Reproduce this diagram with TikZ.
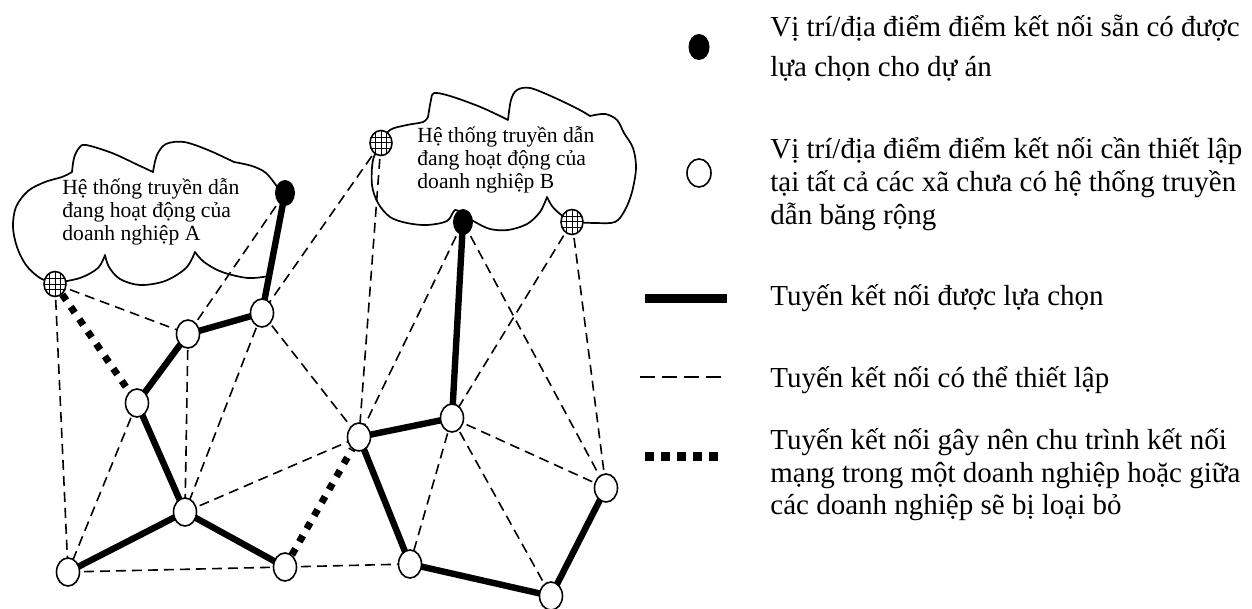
\documentclass[tikz,border=0pt]{standalone}
\usepackage{fontspec}
\setmainfont{Liberation Serif}
\usetikzlibrary{shapes.geometric}
\pgfdeclarelayer{bg}
\pgfsetlayers{bg,main}
\tikzset{
  site/.style={ellipse, draw, line width=0.8pt, fill=white, minimum width=11.5pt, minimum height=14pt, inner sep=0pt},
  exist/.style={ellipse, fill=black, minimum width=10pt, minimum height=13pt, inner sep=0pt},
  gridsite/.style={ellipse, draw, line width=0.8pt, fill=white, minimum width=11pt, minimum height=12.5pt, inner sep=0pt,
    path picture={\foreach \d in {-2.7,0,2.7}{
      \draw[line width=0.5pt] ([xshift=\d pt]path picture bounding box.north) -- ([xshift=\d pt]path picture bounding box.south);
      \draw[line width=0.5pt] ([yshift=\d pt]path picture bounding box.west) -- ([yshift=\d pt]path picture bounding box.east);}}},
  chosen/.style={line width=3.2pt},
  possible/.style={line width=0.8pt, dash pattern=on 5pt off 3pt},
  loopedge/.style={line width=3.5pt, dash pattern=on 3.5pt off 4pt},
  cloudline/.style={line width=0.85pt, line join=round},
  ctext/.style={anchor=base west, inner sep=0pt, font=\fontsize{10.8}{12}\selectfont},
  ltext/.style={anchor=base west, inner sep=0pt, font=\fontsize{14.5}{16}\selectfont},
}
\begin{document}
\begin{tikzpicture}[x=0.5pt,y=-0.5pt]
\useasboundingbox (0,0) rectangle (1252,609);
% nodes
\node[gridsite] (gA) at (55,284) {};
\node[exist] (bA) at (285,193) {};
\node[gridsite] (gB1) at (381,143) {};
\node[exist] (bB) at (463,222) {};
\node[gridsite] (gB2) at (572,222) {};
\node[site] (n1) at (262,313) {};
\node[site] (n2) at (188,334) {};
\node[site] (n3) at (137,403) {};
\node[site] (n4) at (185,512) {};
\node[site] (n5) at (68,572) {};
\node[site] (n6) at (285,567) {};
\node[site] (n7) at (359,437) {};
\node[site] (n8) at (452,418) {};
\node[site] (n9) at (410,564) {};
\node[site] (n10) at (551,596) {};
\node[site] (n11) at (606,488) {};
% cloud texts
\node[ctext] (tA1) at (62,195) {Hệ thống truyền dẫn};
\node[ctext] (tA2) at (62,218) {đang hoạt động của};
\node[ctext] (tA3) at (62,241) {doanh nghiệp A};
\node[ctext] (tB1) at (417,143) {Hệ thống truyền dẫn};
\node[ctext] (tB2) at (417,166) {đang hoạt động của};
\node[ctext] (tB3) at (417,189) {doanh nghiệp B};
\begin{pgfonlayer}{bg}
% cloud A
\draw[cloudline] plot[smooth,tension=0.55] coordinates {(55,283) (40,278) (26,265) (17,247) (13,227) (16,207) (28,191) (45,182) (62,177) (72,172)}
 -- plot[smooth,tension=0.55] coordinates {(72,172) (74,158) (79,148) (86,145) (112,153) (138,165) (153,172)}
 -- plot[smooth,tension=0.55] coordinates {(153,172) (157,155) (166,144) (184,142) (208,150) (234,162)}
 -- plot[smooth,tension=0.55] coordinates {(234,162) (252,166) (266,173) (278,188)}
 -- (285,193) -- (269,276)
 -- plot[smooth,tension=0.55] coordinates {(269,276) (248,278) (222,272) (204,262) (195,252)}
 -- plot[smooth,tension=0.55] coordinates {(195,252) (186,268) (165,281) (140,285) (120,279) (109,267) (105,255)}
 -- plot[smooth,tension=0.55] coordinates {(105,255) (98,268) (80,278) (55,283)};
% cloud B
\draw[cloudline] plot[smooth,tension=0.55] coordinates {(381,143) (390,130) (407,125) (423,122) (428,117)}
 -- plot[smooth,tension=0.55] coordinates {(428,117) (431,100) (434,93) (450,96) (478,106) (498,115) (508,120)}
 -- plot[smooth,tension=0.55] coordinates {(508,120) (511,100) (517,90) (530,88) (553,97) (578,109) (590,116)}
 -- plot[smooth,tension=0.55] coordinates {(590,116) (605,114) (617,120) (624,133) (633,148) (636,168) (632,192) (625,210) (615,222) (595,223) (572,222)}
 -- plot[smooth,tension=0.55] coordinates {(572,222) (560,214) (552,206) (547,197)}
 -- plot[smooth,tension=0.55] coordinates {(547,197) (540,212) (527,224) (508,230) (490,229) (475,222) (463,215)}
 -- plot[smooth,tension=0.55] coordinates {(463,215) (455,210) (447,221) (427,225) (407,223) (390,217) (378,203) (372,185) (373,160) (381,143)};
% possible links
\foreach \a/\b in {gA/n2, gA/n5, bA/n2, gB1/n1, gB1/n7, n1/n4, n1/n7, n2/n4, n3/n5, n4/n7, n5/n6, n6/n9, n8/n9, n8/n10, n8/n11, bB/n7, bB/n11, gB2/n8, gB2/n11}
  \draw[possible] (\a.center) -- (\b.center);
% chosen links
\foreach \a/\b in {bA/n1, n1/n2, n2/n3, n3/n4, n4/n5, n4/n6, n7/n8, bB/n8, n7/n9, n9/n10, n10/n11}
  \draw[chosen] (\a.center) -- (\b.center);
\end{pgfonlayer}
% cycle-causing links
\draw[loopedge] (gA) -- (n3);
\draw[loopedge] (n6) -- (n7);
% legend
\node[exist, minimum width=10.5pt, minimum height=13pt] (lgExist) at (699,47) {};
\node[site, minimum width=12pt, minimum height=14pt] (lgSite) at (699,173) {};
\coordinate (lgA1) at (645,298); \coordinate (lgA2) at (727,298);
\coordinate (lgB1) at (640,377); \coordinate (lgB2) at (722,377);
\coordinate (lgC1) at (645,456); \coordinate (lgC2) at (720,456);
\draw[line width=4.5pt] (lgA1) -- (lgA2);
\draw[line width=0.75pt, dash pattern=on 7.5pt off 3.5pt] (lgB1) -- (lgB2);
\draw[line width=4.5pt, dash pattern=on 4.5pt off 3.5pt] (lgC1) -- (lgC2);
\node[ltext] (l1a) at (770,37) {Vị trí/địa điểm điểm kết nối sẵn có được};
\node[ltext] (l1b) at (770,77) {lựa chọn cho dự án};
\node[ltext] (l2a) at (770,159) {Vị trí/địa điểm điểm kết nối cần thiết lập};
\node[ltext] (l2b) at (770,192) {tại tất cả các xã chưa có hệ thống truyền};
\node[ltext] (l2c) at (770,225) {dẫn băng rộng};
\node[ltext] (l3) at (770,305) {Tuyến kết nối được lựa chọn};
\node[ltext] (l4) at (770,387) {Tuyến kết nối có thể thiết lập};
\node[ltext] (l5a) at (770,449) {Tuyến kết nối gây nên chu trình kết nối};
\node[ltext] (l5b) at (770,482) {mạng trong một doanh nghiệp hoặc giữa};
\node[ltext] (l5c) at (770,514) {các doanh nghiệp sẽ bị loại bỏ};
\end{tikzpicture}
\end{document}
